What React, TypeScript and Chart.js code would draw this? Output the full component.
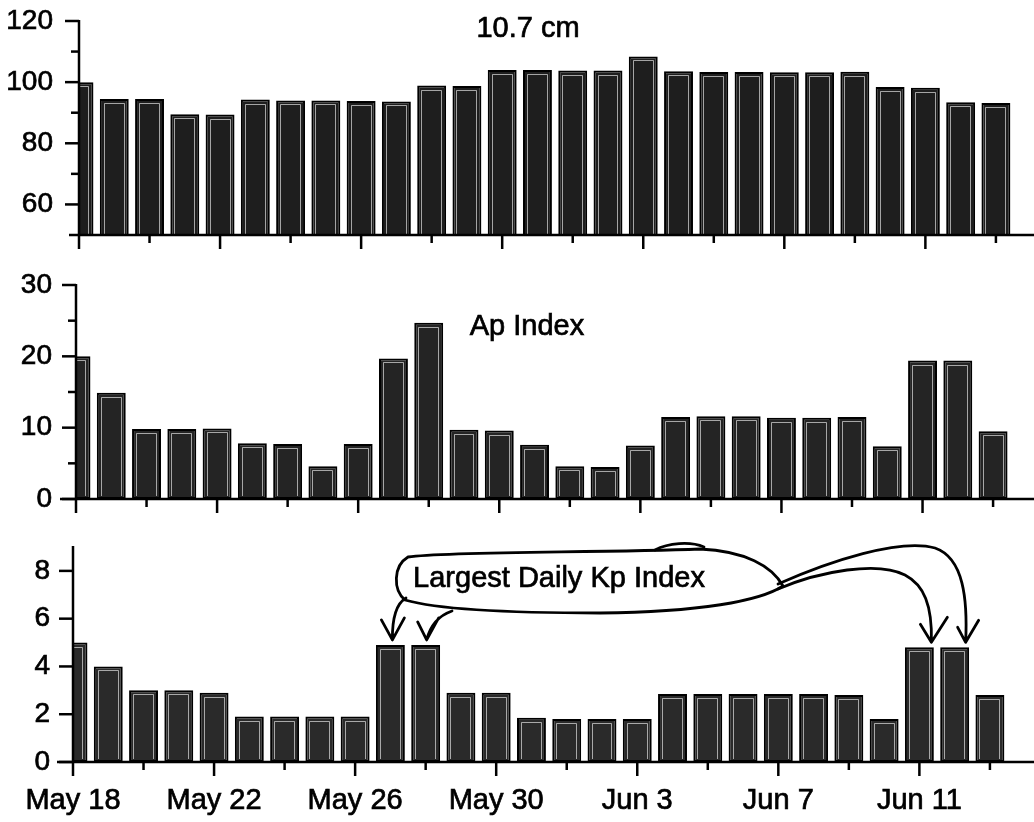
import React, { useEffect, useRef } from 'react';
import { Chart, registerables } from 'chart.js';

Chart.register(...registerables);

const FONT = '"Liberation Sans", Arial, Helvetica, sans-serif';

// ---- data ----
const days = [
  'May 18', 'May 19', 'May 20', 'May 21', 'May 22', 'May 23', 'May 24', 'May 25', 'May 26',
  'May 27', 'May 28', 'May 29', 'May 30', 'May 31', 'Jun 1', 'Jun 2', 'Jun 3', 'Jun 4',
  'Jun 5', 'Jun 6', 'Jun 7', 'Jun 8', 'Jun 9', 'Jun 10', 'Jun 11', 'Jun 12', 'Jun 13',
];
const xTickLabels = ['May 18', 'May 22', 'May 26', 'May 30', 'Jun 3', 'Jun 7', 'Jun 11'];
const xMinorLabels = ['May 20', 'May 24', 'May 28', 'Jun 1', 'Jun 5', 'Jun 9', 'Jun 13'];

const flux107 = [100, 94.5, 94.5, 89.5, 89.4, 94.3, 94.0, 94.0, 93.8, 93.7, 98.9, 98.7, 104.0, 104.0,
  103.8, 103.8, 108.4, 103.6, 103.3, 103.3, 103.2, 103.2, 103.4, 98.4, 98.2, 93.4, 93.2];
const apIndex = [20, 14.9, 9.8, 9.8, 9.9, 7.8, 7.7, 4.6, 7.7, 19.7, 24.7, 9.7, 9.6, 7.6, 4.6, 4.5,
  7.5, 11.5, 11.6, 11.6, 11.4, 11.4, 11.5, 7.4, 19.4, 19.4, 9.5];
const kpMax = [5, 4, 3, 3, 2.9, 1.9, 1.9, 1.9, 1.9, 4.9, 4.9, 2.9, 2.9, 1.85, 1.8, 1.8, 1.8, 2.85,
  2.85, 2.85, 2.85, 2.85, 2.8, 1.8, 4.8, 4.8, 2.8];

const fluxTicks = [60, 80, 100, 120];
const fluxMinor = [70, 90, 110];
const apTicks = [0, 10, 20, 30];
const apMinor = [5, 15, 25];
const kpTicks = [0, 2, 4, 6, 8];
const kpMinor: number[] = [];

const kpHighlighted = ['May 27', 'May 28', 'Jun 11', 'Jun 12'];

const xMajorIdx = xTickLabels.map((d) => days.indexOf(d));
const xMinorIdx = xMinorLabels.map((d) => days.indexOf(d));

type PanelCfg = {
  values: number[];
  yMin: number; yMax: number;
  yMajor: number[]; yMinor: number[];
  left: number; xMax: number;
  canvasTop: number; canvasHeight: number;
  areaTop: number; areaBottom: number;
  yLabelPad: number; xAxisExt: number;
  showXLabels: boolean;
  fill: string;
  title: string; titleX: number; titleBase: number;
  extra?: (ctx: CanvasRenderingContext2D, chart: any, cfg: PanelCfg) => void;
};

function line(ctx: CanvasRenderingContext2D, x1: number, y1: number, x2: number, y2: number) {
  ctx.beginPath();
  ctx.moveTo(x1, y1);
  ctx.lineTo(x2, y2);
  ctx.stroke();
}

function drawKpAnnotation(ctx: CanvasRenderingContext2D, chart: any, cfg: PanelCfg) {
  const x = chart.scales.x;
  const y = chart.scales.y;
  const o = cfg.canvasTop;
  const tip = (label: string, dx: number) => {
    const i = days.indexOf(label);
    return { x: x.getPixelForValue(i) + dx, y: y.getPixelForValue(kpMax[i]) - 5 };
  };
  const t1 = tip(kpHighlighted[0], 2);
  const t2 = tip(kpHighlighted[1], 1);
  const t3 = tip(kpHighlighted[2], 12);
  const t4 = tip(kpHighlighted[3], 11);

  ctx.save();
  ctx.strokeStyle = '#000';
  ctx.lineWidth = 2.8;
  ctx.lineCap = 'round';
  ctx.lineJoin = 'round';
  // bubble
  ctx.beginPath();
  ctx.moveTo(408, 557 - o);
  ctx.bezierCurveTo(450, 551 - o, 600, 553 - o, 700, 549 - o);
  ctx.bezierCurveTo(745, 551 - o, 772, 566 - o, 783, 586 - o);
  ctx.bezierCurveTo(760, 601 - o, 700, 612 - o, 600, 613 - o);
  ctx.bezierCurveTo(520, 613 - o, 440, 610 - o, 405, 600 - o);
  ctx.bezierCurveTo(393, 590 - o, 393, 566 - o, 408, 557 - o);
  ctx.stroke();
  // small curl on top edge
  ctx.beginPath();
  ctx.moveTo(655, 550 - o);
  ctx.bezierCurveTo(668, 543 - o, 690, 541 - o, 704, 547 - o);
  ctx.stroke();

  // left arrows
  ctx.beginPath();
  ctx.moveTo(406, 598 - o);
  ctx.quadraticCurveTo(392, 606 - o, t1.x, t1.y);
  ctx.moveTo(t1.x - 11, t1.y - 20);
  ctx.lineTo(t1.x, t1.y);
  ctx.lineTo(t1.x + 12, t1.y - 22);
  ctx.stroke();
  ctx.beginPath();
  ctx.moveTo(452, 611 - o);
  ctx.quadraticCurveTo(432, 618 - o, t2.x, t2.y);
  ctx.moveTo(t2.x - 9, t2.y - 18);
  ctx.lineTo(t2.x, t2.y);
  ctx.lineTo(t2.x + 12, t2.y - 22);
  ctx.stroke();

  // right arrows
  ctx.beginPath();
  ctx.moveTo(778, 584 - o);
  ctx.bezierCurveTo(830, 561 - o, 900, 538 - o, 935, 548 - o);
  ctx.bezierCurveTo(964, 558 - o, t4.x + 2, 600 - o, t4.x, t4.y);
  ctx.moveTo(t4.x - 8, t4.y - 15);
  ctx.lineTo(t4.x, t4.y);
  ctx.lineTo(t4.x + 13, t4.y - 22);
  ctx.stroke();
  ctx.beginPath();
  ctx.moveTo(778, 589 - o);
  ctx.bezierCurveTo(820, 571 - o, 878, 561 - o, 905, 575 - o);
  ctx.bezierCurveTo(924, 585 - o, t3.x + 1, 605 - o, t3.x, t3.y);
  ctx.moveTo(t3.x - 11, t3.y - 18);
  ctx.lineTo(t3.x, t3.y);
  ctx.lineTo(t3.x + 16, t3.y - 25);
  ctx.stroke();
  ctx.restore();
}

function makeDecor(cfg: PanelCfg) {
  return {
    id: 'decor',
    afterDatasetsDraw(chart: any) {
      const { ctx, chartArea: a } = chart;
      const x = chart.scales.x;
      const y = chart.scales.y;
      // inner light frame of each bar
      ctx.save();
      ctx.beginPath();
      ctx.rect(a.left, 0, a.right - a.left, a.bottom);
      ctx.clip();
      ctx.strokeStyle = 'rgba(255,255,255,0.6)';
      ctx.lineWidth = 1;
      chart.getDatasetMeta(0).data.forEach((el: any) => {
        const p = el.getProps(['x', 'y', 'base', 'width'], true);
        const l = Math.round(p.x - p.width / 2 + 4) + 0.5;
        const r = Math.round(p.x + p.width / 2 - 4) - 0.5;
        const t = Math.round(p.y + 4) + 0.5;
        const b = p.base - 3;
        ctx.beginPath();
        ctx.moveTo(l, b);
        ctx.lineTo(l, t);
        ctx.lineTo(r, t);
        ctx.lineTo(r, b);
        ctx.stroke();
      });
      ctx.restore();

      // axes and ticks
      ctx.save();
      ctx.strokeStyle = '#000';
      ctx.lineWidth = 2.5;
      ctx.lineCap = 'butt';
      line(ctx, a.left, a.top - 1, a.left, a.bottom + 1);
      line(ctx, a.left - cfg.xAxisExt, a.bottom, a.right, a.bottom);
      cfg.yMajor.forEach((v) => {
        const py = y.getPixelForValue(v);
        line(ctx, a.left - 14, py, a.left, py);
      });
      cfg.yMinor.forEach((v) => {
        const py = y.getPixelForValue(v);
        line(ctx, a.left - 8, py, a.left, py);
      });
      xMajorIdx.forEach((v) => {
        const px = x.getPixelForValue(v);
        line(ctx, px, a.bottom, px, a.bottom + 14);
      });
      xMinorIdx.forEach((v) => {
        const px = x.getPixelForValue(v);
        line(ctx, px, a.bottom, px, a.bottom + 8);
      });
      ctx.restore();

      // panel title
      ctx.save();
      ctx.fillStyle = '#000';
      ctx.strokeStyle = '#000';
      ctx.lineWidth = 0.7;
      ctx.font = `29px ${FONT}`;
      ctx.textAlign = 'center';
      ctx.textBaseline = 'alphabetic';
      ctx.fillText(cfg.title, cfg.titleX, cfg.titleBase - cfg.canvasTop);
      ctx.strokeText(cfg.title, cfg.titleX, cfg.titleBase - cfg.canvasTop);
      ctx.restore();

      if (cfg.extra) cfg.extra(ctx, chart, cfg);
    },
  };
}

const panels: PanelCfg[] = [
  {
    values: flux107, yMin: 50, yMax: 120, yMajor: fluxTicks, yMinor: fluxMinor,
    left: 79, xMax: 27.08, canvasTop: 0, canvasHeight: 255, areaTop: 21, areaBottom: 235,
    yLabelPad: 26, xAxisExt: 10, showXLabels: false, fill: '#1e1e1e',
    title: '10.7 cm', titleX: 528, titleBase: 37,
  },
  {
    values: apIndex, yMin: 0, yMax: 30, yMajor: apTicks, yMinor: apMinor,
    left: 76, xMax: 27.16, canvasTop: 255, canvasHeight: 265, areaTop: 285, areaBottom: 499,
    yLabelPad: 24, xAxisExt: 16, showXLabels: false, fill: '#242424',
    title: 'Ap Index', titleX: 527, titleBase: 335,
  },
  {
    values: kpMax, yMin: 0, yMax: 9, yMajor: kpTicks, yMinor: kpMinor,
    left: 73, xMax: 27.25, canvasTop: 520, canvasHeight: 302, areaTop: 547, areaBottom: 762,
    yLabelPad: 23, xAxisExt: 16, showXLabels: true, fill: '#2a2a2a',
    title: 'Largest Daily Kp Index', titleX: 559, titleBase: 587,
    extra: drawKpAnnotation,
  },
];

function Panel({ cfg }: { cfg: PanelCfg }) {
  const ref = useRef<HTMLCanvasElement>(null);
  useEffect(() => {
    const chart = new Chart(ref.current as HTMLCanvasElement, {
      type: 'bar',
      data: {
        datasets: [
          {
            data: cfg.values.map((v, i) => ({ x: i, y: v })),
            backgroundColor: cfg.fill,
            borderColor: '#000',
            borderWidth: 2,
            borderSkipped: false,
            barPercentage: 0.82,
            categoryPercentage: 1,
          } as any,
        ],
      },
      options: {
        animation: false,
        responsive: false,
        events: [],
        layout: {
          padding: { top: cfg.areaTop - cfg.canvasTop, left: 0, right: 0, bottom: 0 },
        },
        plugins: {
          legend: { display: false },
          tooltip: { enabled: false },
          title: { display: false },
        },
        scales: {
          x: {
            type: 'linear',
            min: 0,
            max: cfg.xMax,
            offset: false,
            grid: { display: false, drawTicks: false },
            border: { display: false },
            afterBuildTicks: (s: any) => {
              s.ticks = xMajorIdx.map((v) => ({ value: v }));
            },
            afterFit: (s: any) => {
              s.height = cfg.canvasTop + cfg.canvasHeight - cfg.areaBottom;
              s.paddingLeft = 0;
              s.paddingRight = 0;
              s.paddingTop = 0;
              s.paddingBottom = 0;
            },
            ticks: {
              display: cfg.showXLabels,
              autoSkip: false,
              maxRotation: 0,
              minRotation: 0,
              padding: 22,
              color: '#000',
              textStrokeColor: '#000',
              textStrokeWidth: 0.7,
              font: { family: FONT, size: 29 },
              callback: (v: any) => days[v as number] ?? '',
            },
          },
          y: {
            type: 'linear',
            min: cfg.yMin,
            max: cfg.yMax,
            grid: { display: false, drawTicks: false },
            border: { display: false },
            afterBuildTicks: (s: any) => {
              s.ticks = cfg.yMajor.map((v) => ({ value: v }));
            },
            afterFit: (s: any) => {
              s.width = cfg.left;
              s.paddingTop = 0;
              s.paddingBottom = 0;
              s.paddingLeft = 0;
              s.paddingRight = 0;
            },
            ticks: {
              padding: cfg.yLabelPad,
              color: '#000',
              textStrokeColor: '#000',
              textStrokeWidth: 0.7,
              font: { family: FONT, size: 28 },
              callback: (v: any) => String(v),
            },
          },
        },
      } as any,
      plugins: [makeDecor(cfg)],
    });
    return () => chart.destroy();
  }, [cfg]);
  return (
    <canvas
      ref={ref}
      width={1034}
      height={cfg.canvasHeight}
      style={{ position: 'absolute', left: 0, top: cfg.canvasTop, width: 1034, height: cfg.canvasHeight }}
    />
  );
}

export default function App() {
  return (
    <div
      style={{
        position: 'absolute',
        left: 0,
        top: 0,
        width: 1034,
        height: 822,
        background: '#fff',
        overflow: 'hidden',
      }}
    >
      {panels.map((p, i) => (
        <Panel key={i} cfg={p} />
      ))}
    </div>
  );
}
